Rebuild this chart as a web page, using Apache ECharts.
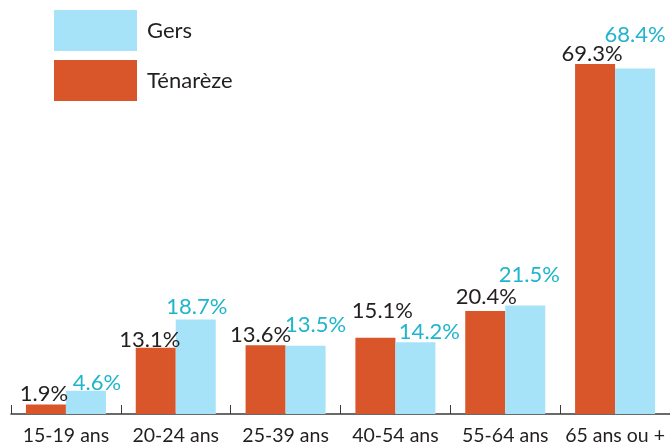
<!DOCTYPE html>
<html><head><meta charset="utf-8">
<script src="https://cdn.jsdelivr.net/npm/echarts@6/dist/echarts.min.js"></script>
<style>html,body{margin:0;padding:0;background:#fff}#c{width:670px;height:446px}</style>
</head><body><div id="c"></div>
<script>
const categories = ['15-19 ans','20-24 ans','25-39 ans','40-54 ans','55-64 ans','65 ans ou +'];
const tenareze = [1.9, 13.1, 13.6, 15.1, 20.4, 69.3];
const gers = [4.6, 18.7, 13.5, 14.2, 21.5, 68.4];
const tenarezeLabelOffsets = [[-2,1],[-6,3],[-5,1],[7,-16],[1,-3],[-3,1]];
const gersLabelOffsets = [[11,3],[1,-2],[10,-10],[14,1],[4,-20],[0,-23]];
const FONT = 'Lato';
function items(vals, offs){
  return vals.map((v,i)=>({value:v, label:{offset:offs[i]}}));
}
const chart = echarts.init(document.getElementById('c'));
chart.setOption({
  animation:false,
  textStyle:{fontFamily:FONT},
  grid:{left:11,right:0,top:10,bottom:32,containLabel:false},
  legend:{
    orient:'vertical', left:54, top:10, padding:0, itemWidth:83, itemHeight:41, itemGap:9,
    data:['Gers','Ténarèze'], icon:'rect',
    textStyle:{fontFamily:FONT,fontSize:22,color:'#231f20',padding:[0,0,0,5]}
  },
  xAxis:{
    type:'category', data:categories,
    axisLine:{lineStyle:{color:'#3a3a3a',width:1.5}},
    axisTick:{show:true,interval:0,inside:true,length:9,lineStyle:{color:'#3a3a3a'}},
    axisLabel:{interval:0,fontFamily:FONT,fontSize:19.5,color:'#231f20',margin:12}
  },
  yAxis:{type:'value',min:0,max:80,show:false,splitLine:{show:false}},
  series:[
    {name:'Ténarèze',type:'bar',barWidth:40,barGap:'0%',data:items(tenareze,tenarezeLabelOffsets),
     itemStyle:{color:'#d9552a'},
     label:{show:true,position:'top',distance:0,formatter:p=>p.value.toFixed(1)+'%',fontFamily:FONT,fontSize:22,color:'#231f20'}},
    {name:'Gers',type:'bar',barWidth:40,barGap:'0%',data:items(gers,gersLabelOffsets),
     itemStyle:{color:'#a6e3f8'},
     label:{show:true,position:'top',distance:0,formatter:p=>p.value.toFixed(1)+'%',fontFamily:FONT,fontSize:22,color:'#1fb5cc'}}
  ]
});
</script></body></html>
